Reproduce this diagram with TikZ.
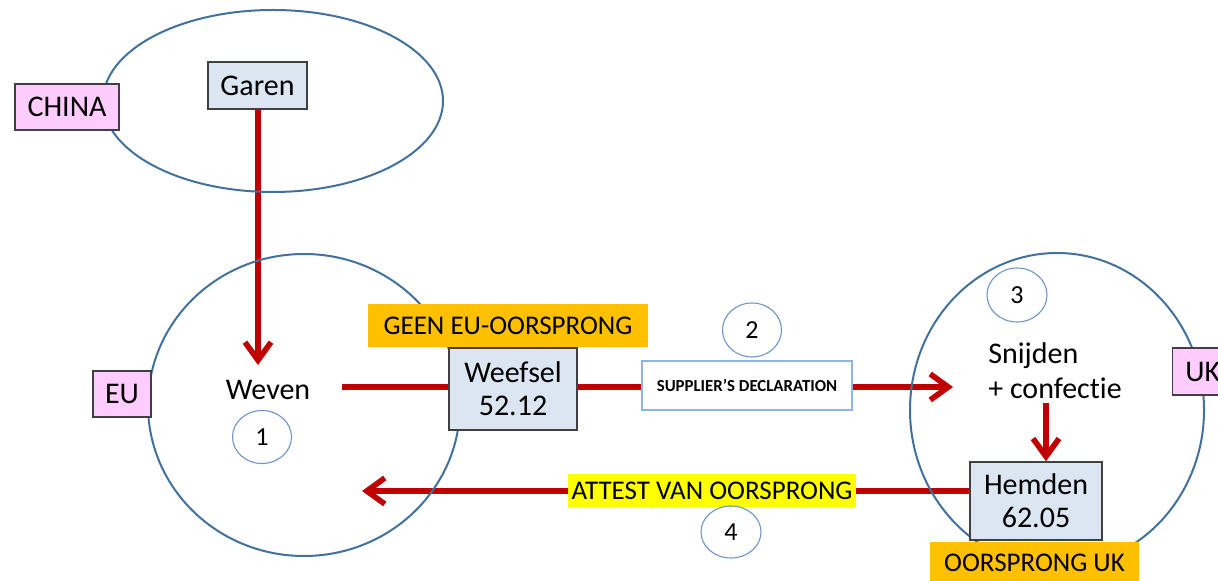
\documentclass[tikz,border=0pt]{standalone}
\usepackage{fontspec}
\setmainfont{Carlito}[Ligatures=NoCommon]
\usetikzlibrary{arrows.meta,shapes.geometric}
\pgfdeclarelayer{bg}
\pgfsetlayers{bg,main}
\definecolor{arrred}{HTML}{C00000}
\definecolor{regblue}{HTML}{41719C}
\definecolor{numblue}{HTML}{6F95C8}
\definecolor{boxfill}{HTML}{DCE6F2}
\definecolor{boxline}{HTML}{404040}
\definecolor{pinkfill}{HTML}{FFCCFF}
\definecolor{orangefill}{HTML}{FFC000}
\definecolor{yellowfill}{HTML}{FFFF00}
\definecolor{supline}{HTML}{8EB4E3}
\tikzset{
  region/.style={draw=regblue, line width=1pt, ellipse, inner sep=0pt},
  country/.style={draw=boxline, line width=0.7pt, fill=pinkfill, inner sep=0pt, font=\fontsize{15}{18}\selectfont},
  goods/.style={draw=boxline, line width=0.7pt, fill=boxfill, inner sep=0pt, align=center, font=\fontsize{15}{16.5}\selectfont},
  origin/.style={fill=orangefill, inner sep=0pt, font=\fontsize{13.5}{16}\selectfont},
  numcirc/.style={draw=numblue, line width=0.55pt, ellipse, inner sep=0pt, font=\fontsize{13}{15}\selectfont},
  plain/.style={inner sep=0pt, font=\fontsize{15}{18}\selectfont},
  redline/.style={draw=arrred, line width=2.8pt},
  redarrow/.style={redline, -{Straight Barb[length=9pt,width=13pt]}},
}
\begin{document}
\begin{tikzpicture}[x=0.5pt,y=-0.5pt]
\useasboundingbox (0,0) rectangle (1218,581);
% regions
\node[region, minimum width=170pt, minimum height=91pt] (china) at (273,101) {};
\node[region, minimum width=156pt, minimum height=151pt] (eu) at (304,405) {};
\node[region, minimum width=147pt, minimum height=157pt] (uk) at (1057,410) {};
% country labels
\node[country, minimum width=52pt, minimum height=23pt] (chinalab) at (67,107) {CHINA};
\node[country, minimum width=29pt, minimum height=23pt] (eulab) at (122,394) {EU};
\node[country, minimum width=30pt, minimum height=23.5pt, anchor=west] (uklab) at (1172,371.5) {UK};
% goods
\node[goods, minimum width=49.5pt, minimum height=23.5pt] (garen) at (257.5,85.5) {Garen};
\node[goods, minimum width=64pt, minimum height=41pt] (weefsel) at (513,389) {Weefsel\\52.12};
\node[goods, minimum width=66pt, minimum height=39pt] (hemden) at (1036,501) {Hemden\\62.05};
% origin labels
\node[origin, minimum width=140pt, minimum height=21.5pt] (geen) at (508,325.5) {GEEN EU-OORSPRONG};
\node[origin, minimum width=104.5pt, minimum height=21pt] (ukorig) at (1034.5,563) {OORSPRONG UK};
% process texts
\node[plain] (weven) at (268,390) {Weven};
\node[plain, align=left, font=\fontsize{15}{17.5}\selectfont] (snijden) at (1055,371) {Snijden\\+ confec\kern0pt tie};
% documents
\node[draw=supline, line width=0.6pt, fill=white, minimum width=105pt, minimum height=24.5pt, inner sep=0pt, font=\fontsize{8.4}{10}\selectfont\bfseries] (supplier) at (747,385.5) {SUPPLIER'S DECLARATION};
\node[fill=yellowfill, minimum width=144pt, minimum height=16.5pt, inner sep=0pt, font=\fontsize{13.5}{16}\selectfont] (attest) at (712,490.5) {ATTEST VAN OORSPRONG};
% step numbers
\node[numcirc, minimum width=29.5pt, minimum height=26.5pt] (n1) at (262,437) {1};
\node[numcirc, minimum width=29.5pt, minimum height=27pt] (n2) at (752,330) {2};
\node[numcirc, minimum width=30pt, minimum height=27pt] (n3) at (1017,295) {3};
\node[numcirc, minimum width=30pt, minimum height=26pt] (n4) at (731,532) {4};
% connector end points
\coordinate (a1) at (258,365);
\coordinate (w0) at (342,387);
\coordinate (a2) at (953,387);
\coordinate (s0) at (1046,403);
\coordinate (a4) at (362,491);
\begin{pgfonlayer}{bg}
\draw[redarrow] (garen.south -| a1) -- (a1);
\draw[redarrow] (w0) -- (a2);
\draw[redarrow] (s0) -- (s0 |- hemden.north);
\draw[redarrow] (a4 -| hemden.west) -- (a4);
\end{pgfonlayer}
\end{tikzpicture}
\end{document}
